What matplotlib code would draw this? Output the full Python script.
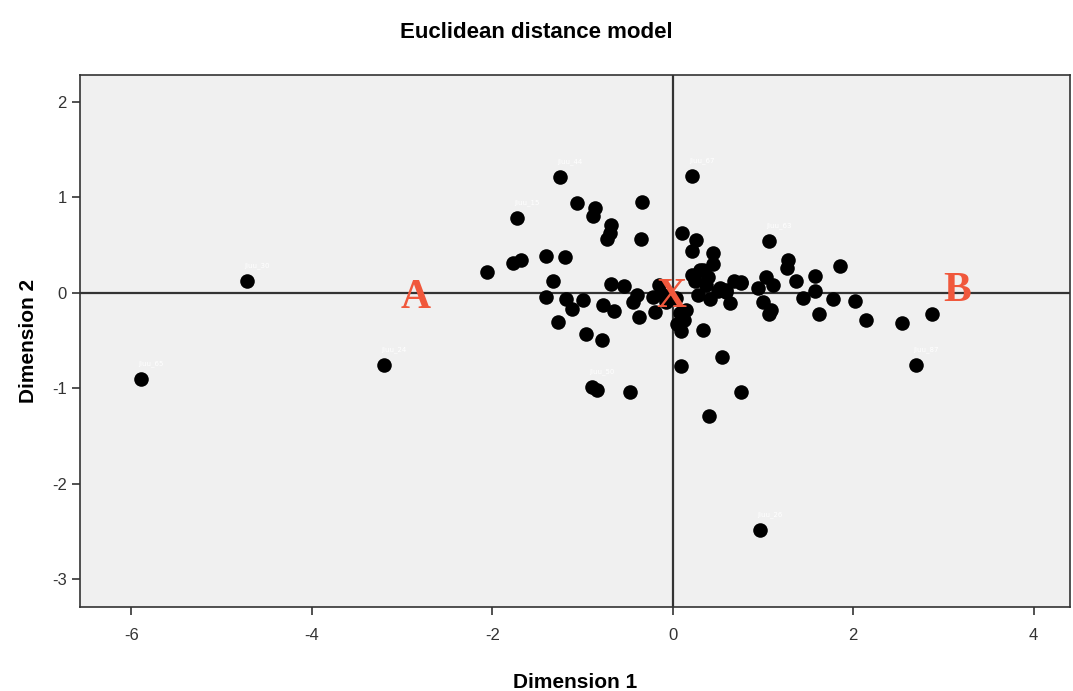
import matplotlib.pyplot as plt
import numpy as np

plt.rcParams['axes.unicode_minus'] = False

# MDS coordinates (Dimension 1, Dimension 2)
dim1 = [-5.89, -4.72, -3.20, 0.97, 2.69, 2.87, 2.54,
        -1.25, -1.06, -0.86, -0.89, -0.34, -1.73, -0.68, -0.70, -0.73, -0.35,
        -2.06, -1.77, -1.68, -1.41, -1.20, -1.33, -0.68, -0.54,
        -1.40, -1.18, -0.99, -1.12, -1.27, -0.77, -0.65, -0.40, -0.44, -0.37,
        -0.22, -0.20, -0.11, -0.96, -0.78, -0.90, -0.84, -0.47,
        0.21, 0.10, 0.26, 0.21, 0.45, 1.07, 1.28, 1.27, 1.85, 1.58, 1.36,
        0.76, 1.03, 1.11, 0.94, 0.30, 0.21, 0.34, 0.39, 0.52, 0.59, 0.37,
        0.41, 0.63, 0.59, 1.00, 1.09, 1.07, 1.44, 1.58, 1.78, 2.02, 2.14,
        1.62, 0.09, 0.33, 0.55, 0.09, 0.76, 0.40, 0.08, 0.15, 0.76,
        -0.15, -0.08, 0.03, 0.12, 0.25, 0.45, 0.50, 0.68, 0.28, 0.05]
dim2 = [-0.90, 0.12, -0.76, -2.48, -0.76, -0.22, -0.31,
        1.21, 0.94, 0.89, 0.81, 0.95, 0.78, 0.71, 0.63, 0.56, 0.56,
        0.22, 0.31, 0.35, 0.39, 0.38, 0.13, 0.09, 0.07,
        -0.04, -0.06, -0.07, -0.17, -0.30, -0.13, -0.19, -0.02, -0.09, -0.25,
        -0.04, -0.20, -0.02, -0.43, -0.49, -0.99, -1.02, -1.04,
        1.22, 0.63, 0.55, 0.44, 0.42, 0.54, 0.35, 0.26, 0.28, 0.18, 0.13,
        0.11, 0.17, 0.08, 0.05, 0.24, 0.19, 0.24, 0.17, 0.05, 0.01, 0.08,
        -0.06, -0.11, 0.03, -0.09, -0.18, -0.22, -0.05, 0.02, -0.06, -0.08, -0.28,
        -0.22, -0.40, -0.39, -0.67, -0.77, -1.04, -1.29, -0.21, -0.18, 0.10,
        0.08, -0.10, -0.05, -0.28, 0.12, 0.30, 0.02, 0.12, -0.02, -0.33]

# readable point labels (faint white in the original)
label_pts = {'jiuu_65': (-5.89, -0.90), 'jiuu_30': (-4.72, 0.12),
             'jiuu_24': (-3.20, -0.76), 'jiuu_26': (0.97, -2.48),
             'jiuu_44': (-1.25, 1.21), 'jiuu_67': (0.21, 1.22),
             'jiuu_87': (2.69, -0.76), 'jiuu_15': (-1.73, 0.78),
             'jiuu_50': (-0.90, -0.99), 'jiuu_63': (1.07, 0.54)}

# letter markers
letters = ['A', 'X', 'B']
letter_x = [-2.85, -0.02, 3.15]
letter_y = [-0.05, -0.04, 0.02]

fig, ax = plt.subplots(figsize=(10.73, 6.91), dpi=100)
fig.subplots_adjust(left=0.0746, right=0.997, top=0.891, bottom=0.1216)
ax.set_facecolor('#f0f0f0')

ax.axhline(0, color='#333333', lw=1.6, zorder=1)
ax.axvline(0, color='#333333', lw=1.6, zorder=1)

ax.scatter(dim1, dim2, s=110, color='black', zorder=3, linewidths=0)

for name, (px, py) in label_pts.items():
    ax.annotate(name, (px, py), xytext=(-2, 10), textcoords='offset points',
                fontsize=5, color='white', zorder=2)

for t, lx, ly in zip(letters, letter_x, letter_y):
    ax.text(lx, ly, t, fontsize=30, fontweight='bold', family='Liberation Serif',
            color='#f0583c', ha='center', va='center', zorder=4)

ax.set_xlim(-6.57, 4.40)
ax.set_ylim(-3.29, 2.28)
ax.set_xticks([-6, -4, -2, 0, 2, 4])
ax.set_yticks([-3, -2, -1, 0, 1, 2])
ax.tick_params(direction='out', length=6, width=1.2, labelsize=12,
               labelcolor='#333333', color='#333333')
ax.tick_params(axis='x', pad=9)
for lbl in ax.get_xticklabels() + ax.get_yticklabels():
    lbl.set_family('Liberation Sans')
for sp in ax.spines.values():
    sp.set_color('#333333')
    sp.set_linewidth(1.2)

ax.set_xlabel('Dimension 1', fontsize=15, fontweight='bold', labelpad=22,
              family='Liberation Sans')
ax.set_ylabel('Dimension 2', fontsize=15, fontweight='bold', labelpad=10,
              family='Liberation Sans')
fig.suptitle('Euclidean distance model', fontsize=16, fontweight='bold',
             family='Liberation Sans', y=0.968)

plt.savefig('out.png', dpi=100)
